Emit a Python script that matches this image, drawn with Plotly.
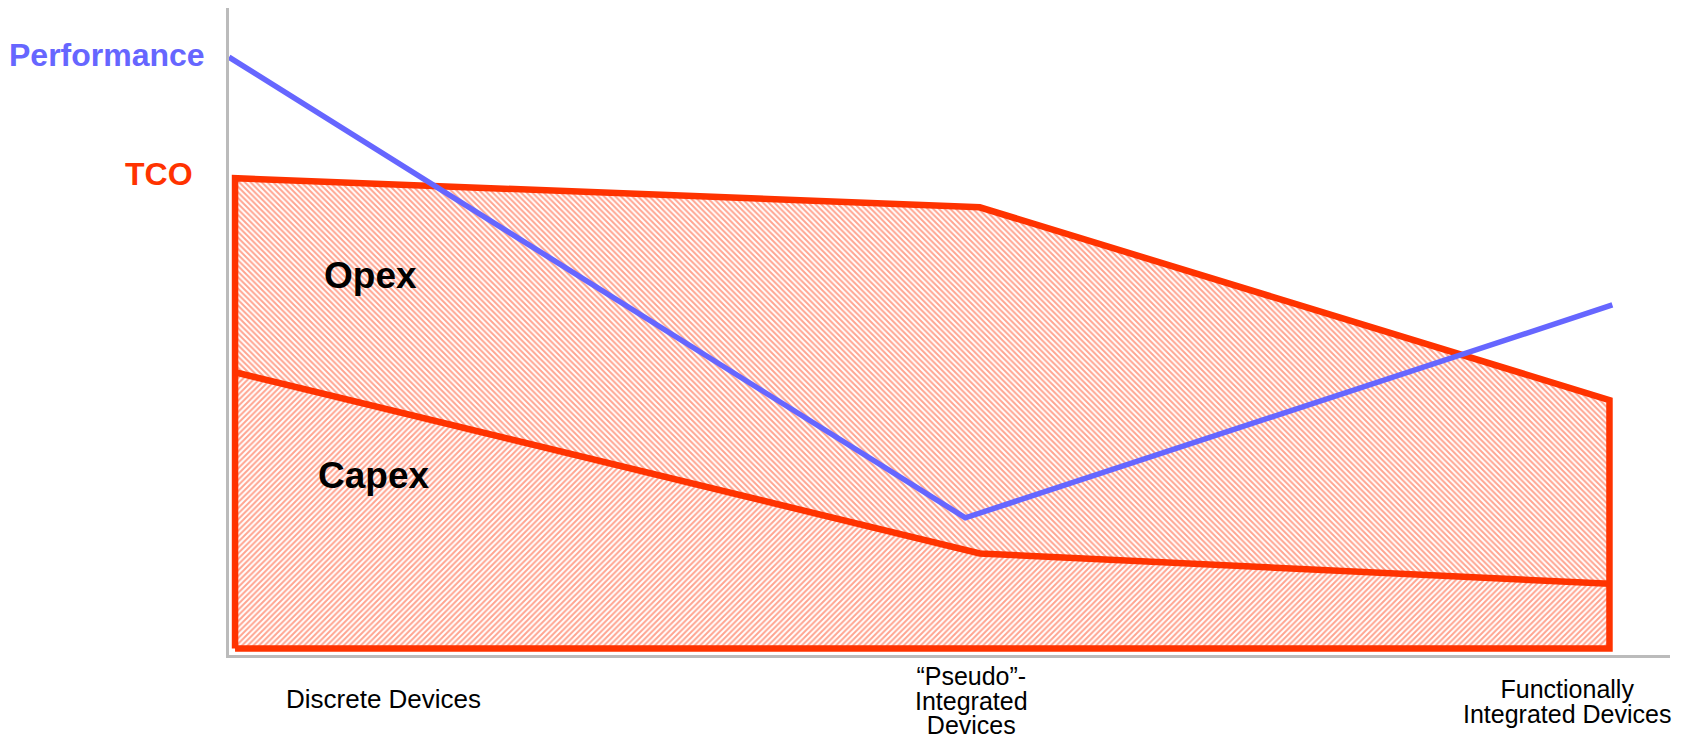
import plotly.graph_objects as go

# ---- data (relative units: x 0-100 along the axis, y 0-100 up the axis) ----
tco_x = [0.42, 52.1, 95.8]
tco_y = [73.7, 69.2, 39.4]
capex_x = [0.42, 52.1, 95.8]
capex_y = [43.7, 15.7, 11.0]
base_y = 1.0
perf_x = [0.0, 51.1, 96.0]
perf_y = [92.4, 21.2, 54.1]

stage_labels = [["Discrete Devices"],
                ["\u201cPseudo\u201d-", "Integrated", "Devices"],
                ["Functionally", "Integrated Devices"]]
stage_x = [0.1069, 0.5153, 0.9285]
stage_y = [-0.068, -0.1329, -0.072]
stage_anchor = ["middle", "bottom", "middle"]
stage_size = [26, 25, 25]

RED = "#FF3300"
BLUE = "#6666FF"
GRAY = "#BBBBBB"
HATCH = "#FF4A22"

fig = go.Figure()

# Capex region (bottom)
cx = [capex_x[0]] + capex_x + [capex_x[-1], capex_x[0]]
cy = [base_y] + capex_y + [base_y, base_y]
fig.add_trace(go.Scatter(
    x=cx, y=cy, mode="none", fill="toself", fillcolor="white",
    fillpattern=dict(shape="/", fgcolor=HATCH, bgcolor="white",
                     size=4, solidity=0.5),
    hoverinfo="skip", showlegend=False))

# Opex region (between Capex and TCO)
ox = capex_x + tco_x[::-1] + [capex_x[0]]
oy = capex_y + tco_y[::-1] + [capex_y[0]]
fig.add_trace(go.Scatter(
    x=ox, y=oy, mode="none", fill="toself", fillcolor="white",
    fillpattern=dict(shape="\\", fgcolor=HATCH, bgcolor="white",
                     size=4, solidity=0.5),
    hoverinfo="skip", showlegend=False))

# TCO outline
outline_x = [tco_x[0]] + tco_x + [tco_x[-1], tco_x[0]]
outline_y = [base_y] + tco_y + [base_y, base_y]
fig.add_trace(go.Scatter(
    x=outline_x, y=outline_y, mode="lines",
    line=dict(color=RED, width=6.5), hoverinfo="skip", showlegend=False))

# Capex boundary
fig.add_trace(go.Scatter(
    x=capex_x, y=capex_y, mode="lines",
    line=dict(color=RED, width=6.5), hoverinfo="skip", showlegend=False))

# Performance
fig.add_trace(go.Scatter(
    x=perf_x, y=perf_y, mode="lines",
    line=dict(color=BLUE, width=5.5), hoverinfo="skip", showlegend=False))

annotations = []
FONT = "Liberation Sans, Arial, sans-serif"
annotations.append(dict(x=0, y=0.927, xref="paper", yref="paper", text="<b>Performance</b>",
                        showarrow=False, xanchor="right", yanchor="middle", xshift=-22,
                        font=dict(family=FONT, size=32, color=BLUE)))
annotations.append(dict(x=0, y=0.743, xref="paper", yref="paper", text="<b>TCO</b>",
                        showarrow=False, xanchor="right", yanchor="middle", xshift=-34,
                        font=dict(family=FONT, size=32, color=RED)))
annotations.append(dict(x=0.0985, y=0.586, xref="paper", yref="paper", text="<b>Opex</b>",
                        showarrow=False, xanchor="center", yanchor="middle",
                        font=dict(family=FONT, size=37, color="black")))
annotations.append(dict(x=0.100, y=0.278, xref="paper", yref="paper", text="<b>Capex</b>",
                        showarrow=False, xanchor="center", yanchor="middle",
                        font=dict(family=FONT, size=37, color="black")))
for lines, sx, sy, anc, fs in zip(stage_labels, stage_x, stage_y, stage_anchor, stage_size):
    # tight line spacing (~1 em) as in the reference: small base font, larger span font
    inner = "<br>".join(lines)
    text = f'<span style="font-size:{fs}px">{inner}</span>'
    annotations.append(dict(x=sx, y=sy, xref="paper", yref="paper", text=text,
                            showarrow=False, xanchor="center", yanchor=anc,
                            align="center",
                            font=dict(family=FONT, size=round(fs / 1.3), color="black")))

# page body has an 8px margin, so the figure is 16px smaller than the window
fig.update_layout(
    width=1667, height=733,
    margin=dict(l=221, r=5, t=0, b=86),
    paper_bgcolor="white", plot_bgcolor="white",
    xaxis=dict(range=[0, 100], showgrid=False, zeroline=False, showticklabels=False,
               ticks="", showline=True, linecolor=GRAY, linewidth=3, fixedrange=True),
    yaxis=dict(range=[0, 100], showgrid=False, zeroline=False, showticklabels=False,
               ticks="", showline=True, linecolor=GRAY, linewidth=3, fixedrange=True),
    annotations=annotations,
    showlegend=False,
)

fig.write_html("out.html")
